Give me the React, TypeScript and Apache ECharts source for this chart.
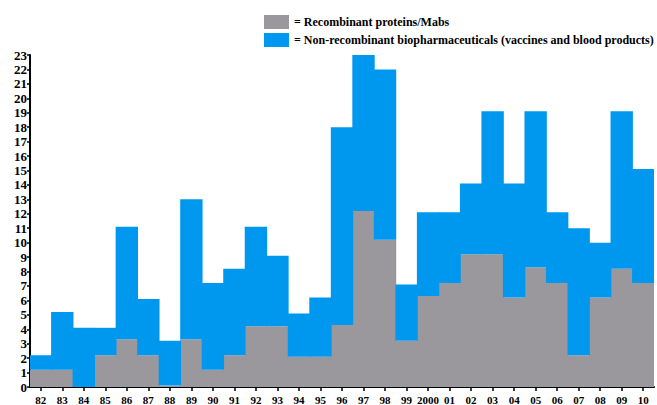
import React, { useEffect, useRef } from "react";
import * as echarts from "echarts";

const years = ["82","83","84","85","86","87","88","89","90","91","92","93","94","95","96","97","98","99","2000","01","02","03","04","05","06","07","08","09","10"];
const recombinant = [1.2,1.2,0,2.2,3.3,2.2,0.1,3.3,1.2,2.2,4.2,4.2,2.1,2.1,4.3,12.2,10.2,3.2,6.3,7.2,9.2,9.2,6.2,8.3,7.2,2.2,6.2,8.2,7.2];
const nonRecombinant = [1.0,4.0,4.1,1.9,7.8,3.9,3.1,9.7,6.0,6.0,6.9,4.9,3.0,4.1,13.7,10.8,11.8,3.9,5.8,4.9,4.9,9.9,7.9,10.8,4.9,8.8,3.8,10.9,7.9];
const seriesNames = ["= Recombinant proteins/Mabs", "= Non-recombinant biopharmaceuticals (vaccines and blood products)"];

const FONT = "'Liberation Serif', 'Times New Roman', serif";
const GRAY = "#9a989d";
const BLUE = "#0098ef";

export default function App() {
  const ref = useRef<HTMLDivElement>(null);
  useEffect(() => {
    if (!ref.current) return;
    const chart = echarts.init(ref.current, null, { renderer: "svg" });
    chart.setOption({
      animation: false,
      backgroundColor: "#ffffff",
      textStyle: { fontFamily: FONT },
      legend: {
        orient: "vertical",
        left: 264,
        top: 15,
        padding: 0,
        itemWidth: 25,
        itemHeight: 14,
        itemGap: 4,
        icon: "rect",
        selectedMode: false,
        textStyle: { fontFamily: FONT, fontWeight: "bold", fontSize: 12, color: "#000" },
        data: seriesNames,
      },
      grid: { left: 30, right: 3, top: 55, bottom: 13, containLabel: false },
      xAxis: {
        type: "category",
        data: years,
        boundaryGap: true,
        axisLine: { show: true, lineStyle: { color: "#000", width: 2 } },
        axisTick: { show: true, alignWithLabel: true, length: 4, lineStyle: { color: "#000", width: 1.5 } },
        axisLabel: { interval: 0, margin: 7, fontFamily: FONT, fontWeight: "bold", fontSize: 11, color: "#000" },
        splitLine: { show: false },
      },
      yAxis: {
        type: "value",
        min: 0,
        max: 23,
        interval: 1,
        axisLine: { show: true, lineStyle: { color: "#000", width: 2 } },
        axisTick: { show: true, length: 3, lineStyle: { color: "#000", width: 1.5 } },
        axisLabel: { margin: 3, fontFamily: FONT, fontWeight: "bold", fontSize: 13, color: "#000" },
        splitLine: { show: false },
      },
      series: [
        {
          name: seriesNames[0],
          type: "bar",
          stack: "total",
          barWidth: "104%",
          itemStyle: { color: GRAY },
          data: recombinant,
        },
        {
          name: seriesNames[1],
          type: "bar",
          stack: "total",
          barWidth: "104%",
          itemStyle: { color: BLUE },
          data: nonRecombinant,
        },
      ],
    });
    return () => chart.dispose();
  }, []);
  return <div ref={ref} style={{ position: "fixed", left: 0, top: 0, width: 657, height: 405 }} />;
}
